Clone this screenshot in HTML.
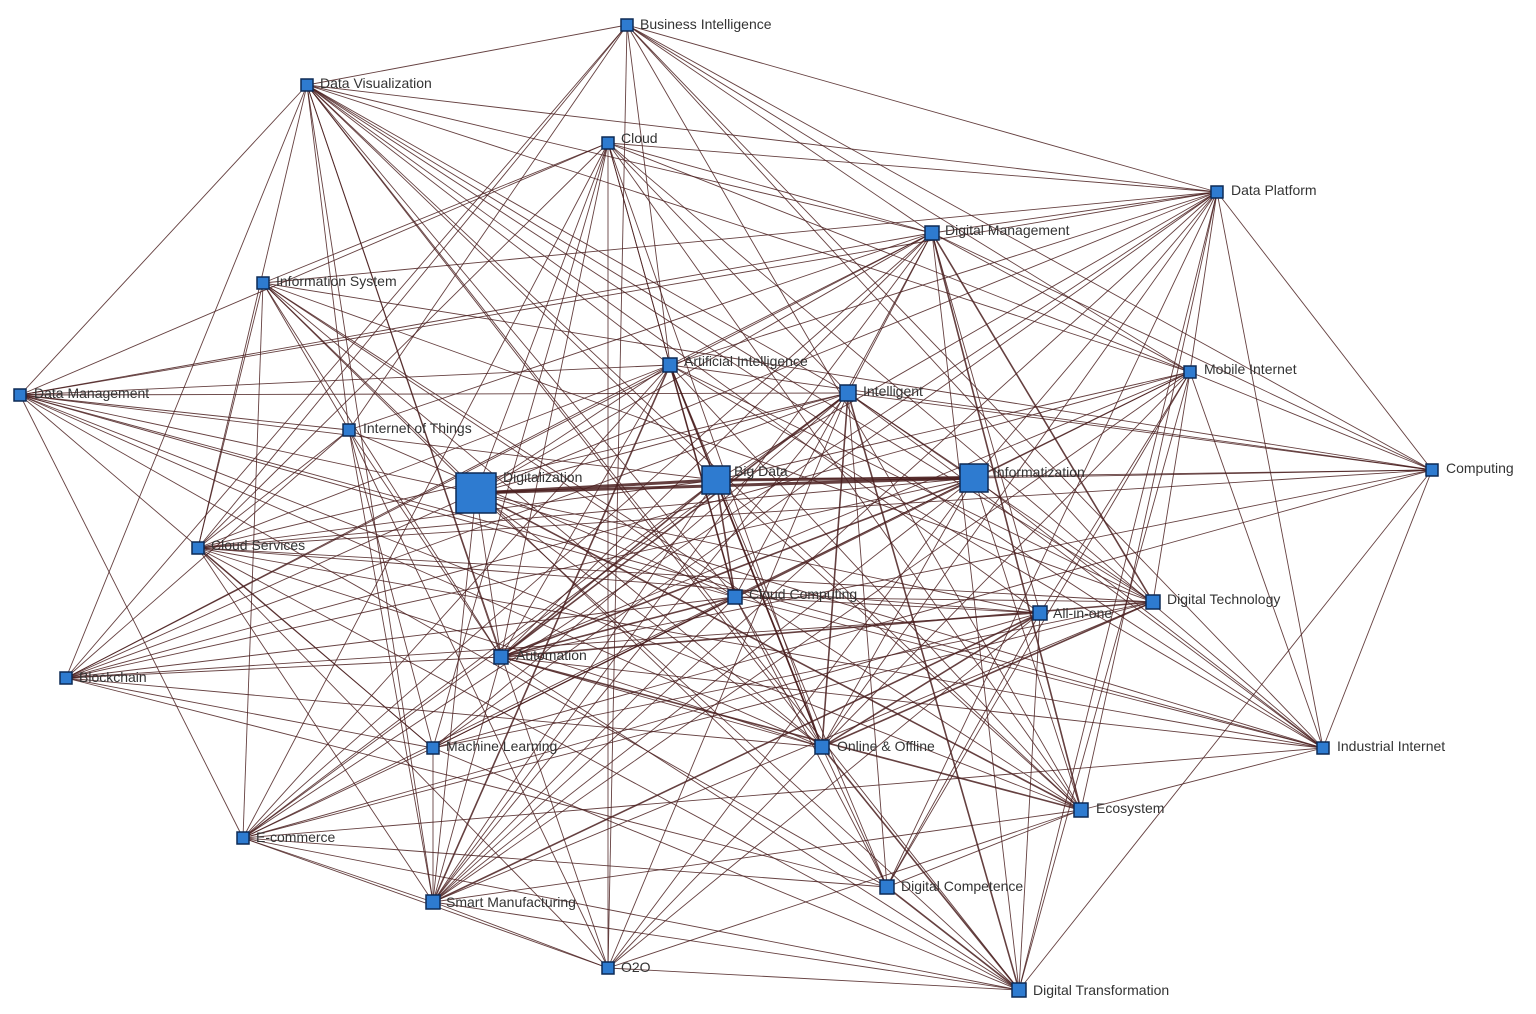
<!DOCTYPE html>
<html><head><meta charset="utf-8"><style>
html,body{margin:0;padding:0;background:#fff;width:1536px;height:1014px;overflow:hidden}
svg text{font-family:"Liberation Sans",sans-serif;font-size:14px;fill:#333}
</style></head><body>
<svg id="g" width="1536" height="1014" xmlns="http://www.w3.org/2000/svg">
<g id="edges" stroke="#4a1f1f" stroke-width="0.9" stroke-opacity="0.85"></g>
<g id="nodes"></g>
<g id="labels">
<text x="640" y="29">Business Intelligence</text>
<text x="320" y="88">Data Visualization</text>
<text x="621" y="143">Cloud</text>
<text x="1231" y="195">Data Platform</text>
<text x="945" y="235">Digital Management</text>
<text x="276" y="286">Information System</text>
<text x="684" y="366">Artificial Intelligence</text>
<text x="1204" y="374">Mobile Internet</text>
<text x="863" y="396">Intelligent</text>
<text x="34" y="398">Data Management</text>
<text x="363" y="433">Internet of Things</text>
<text x="503" y="482">Digitalization</text>
<text x="734" y="476">Big Data</text>
<text x="993" y="477">Informatization</text>
<text x="1446" y="473">Computing</text>
<text x="211" y="550">Cloud Services</text>
<text x="749" y="599">Cloud Computing</text>
<text x="1053" y="618">All-in-one</text>
<text x="1167" y="604">Digital Technology</text>
<text x="516" y="660">Automation</text>
<text x="79" y="682">Blockchain</text>
<text x="446" y="751">Machine Learning</text>
<text x="837" y="751">Online &amp; Offline</text>
<text x="1337" y="751">Industrial Internet</text>
<text x="1096" y="813">Ecosystem</text>
<text x="256" y="842">E-commerce</text>
<text x="901" y="891">Digital Competence</text>
<text x="446" y="907">Smart Manufacturing</text>
<text x="621" y="972">O2O</text>
<text x="1033" y="995">Digital Transformation</text>
</g>
</svg>
<script>
var N=[[627,25,12],[307,85,12],[608,143,12],[1217,192,12],[932,233,14],[263,283,12],[670,365,14],[1190,372,12],[848,393,16],[20,395,12],[349,430,12],[476,493,40],[716,480,28],[974,478,28],[1432,470,12],[198,548,12],[735,597,14],[1040,613,14],[1153,602,14],[501,657,14],[66,678,12],[433,748,12],[822,747,14],[1323,748,12],[1081,810,14],[243,838,12],[887,887,14],[433,902,14],[608,968,12],[1019,990,14]];
var E=document.getElementById('edges'),G=document.getElementById('nodes'),ns='http://www.w3.org/2000/svg';
var s=7;function r(){s=(s*16807)%2147483647;return s/2147483647;}
for(var i=0;i<N.length;i++)for(var j=i+1;j<N.length;j++){
 var mn=Math.min(N[i][2],N[j][2]);var big=mn>=28;
 if(r()<0.62||big){var l=document.createElementNS(ns,'line');
 l.setAttribute('x1',N[i][0]);l.setAttribute('y1',N[i][1]);l.setAttribute('x2',N[j][0]);l.setAttribute('y2',N[j][1]);
 if(big)l.setAttribute('stroke-width',3);else if(mn>=14&&r()<0.3)l.setAttribute('stroke-width',1.6);
 E.appendChild(l);}}
N.forEach(function(n){var q=document.createElementNS(ns,'rect'),h=n[2];
 q.setAttribute('x',n[0]-h/2);q.setAttribute('y',n[1]-h/2);q.setAttribute('width',h);q.setAttribute('height',h);
 q.setAttribute('fill','#2e7bd0');q.setAttribute('stroke','#0d2a55');q.setAttribute('stroke-width','1.5');G.appendChild(q);});
</script>
</body></html>
